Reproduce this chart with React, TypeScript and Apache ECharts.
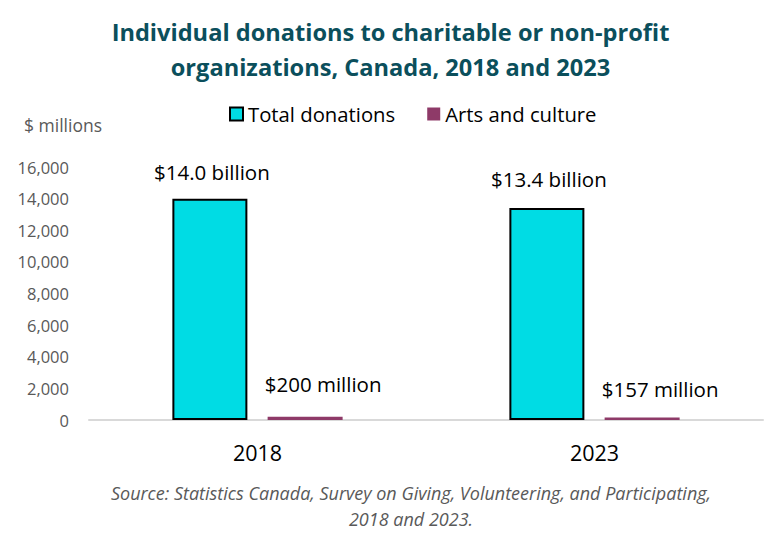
import { useEffect, useRef } from "react";
import * as echarts from "echarts";

const years = ["2018", "2023"];
const totalDonations = [14000, 13400];
const artsCulture = [200, 157];
const totalLabels = ["$14.0 billion", "$13.4 billion"];
const artsLabels = ["$200 million", "$157 million"];
const yTicks = { min: 0, max: 16000, interval: 2000 };

const FONT = "'Open Sans', 'Noto Sans', sans-serif";

export default function App() {
  const chartRef = useRef<HTMLDivElement>(null);

  useEffect(() => {
    if (!chartRef.current) return;
    const chart = echarts.init(chartRef.current, null, { renderer: "svg" });

    chart.setOption({
      animation: false,
      textStyle: { fontFamily: FONT },
      title: {
        text: "Individual donations to charitable or non-profit\norganizations, Canada, 2018 and 2023",
        left: "center",
        top: 9,
        textStyle: {
          color: "#0B4F5C",
          fontSize: 23.6,
          fontWeight: "bold",
          lineHeight: 35,
          fontFamily: FONT,
        },
      },
      legend: {
        top: 104,
        left: 229,
        padding: 0,
        itemWidth: 13,
        itemHeight: 13,
        itemGap: 32,
        icon: "rect",
        textStyle: { fontSize: 20.3, color: "#000", fontFamily: FONT },
        data: ["Total donations", "Arts and culture"],
      },
      grid: { left: 89, right: 18, top: 167, bottom: 119 },
      xAxis: {
        type: "category",
        data: years,
        axisLine: { lineStyle: { color: "#D9D9D9", width: 2 } },
        axisTick: { show: false },
        axisLabel: { color: "#000", fontSize: 21.5, margin: 21 },
      },
      yAxis: {
        type: "value",
        min: yTicks.min,
        max: yTicks.max,
        interval: yTicks.interval,
        splitLine: { show: false },
        axisLine: { show: false },
        axisTick: { show: false },
        axisLabel: {
          color: "#595959",
          fontSize: 16.5,
          margin: 20,
          formatter: (v: number) => v.toLocaleString("en-US"),
        },
      },
      series: [
        {
          name: "Total donations",
          type: "bar",
          data: totalDonations.map((v, i) => ({
            value: v,
            label: { distance: i === 0 ? 16 : 19 },
          })),
          barWidth: 75,
          barGap: "27%",
          itemStyle: { color: "#00DCE4", borderColor: "#000", borderWidth: 2 },
          label: {
            show: true,
            position: "top",
            fontSize: 20.5,
            color: "#000",
            offset: [2, 0],
            formatter: (p: any) => totalLabels[p.dataIndex],
          },
        },
        {
          name: "Arts and culture",
          type: "bar",
          data: artsCulture.map((v, i) => ({
            value: v,
            label: { distance: i === 0 ? 22 : 18 },
          })),
          barWidth: 75,
          itemStyle: { color: "#8E3A68" },
          label: {
            show: true,
            position: "top",
            fontSize: 20.5,
            color: "#000",
            offset: [18, 0],
            formatter: (p: any) => artsLabels[p.dataIndex],
          },
        },
      ],
      graphic: [
        {
          type: "text",
          left: 24,
          top: 116,
          style: { text: "$ millions", fontSize: 17.5, fill: "#595959", fontFamily: FONT },
        },
        {
          type: "text",
          x: 411,
          y: 480,
          style: {
            text: "Source: Statistics Canada, Survey on Giving, Volunteering, and Participating,\n2018 and 2023.",
            fontSize: 18,
            fontStyle: "italic",
            fill: "#595959",
            lineHeight: 26,
            textAlign: "center",
            fontFamily: FONT,
          },
        },
      ],
    });

    return () => {
      chart.dispose();
    };
  }, []);

  return <div ref={chartRef} style={{ width: 781, height: 539, margin: -8 }} />;
}
